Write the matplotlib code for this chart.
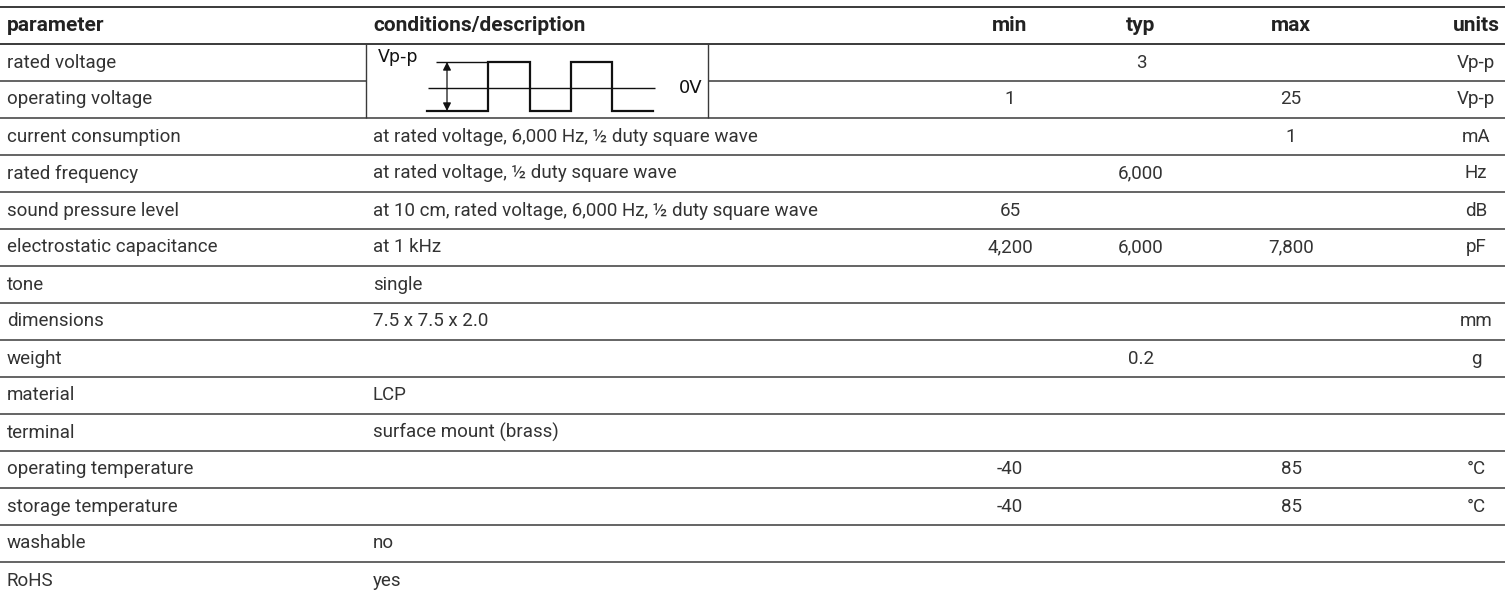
import matplotlib
matplotlib.use("Agg")
import matplotlib.pyplot as plt

plt.rcParams['font.family'] = ['Roboto', 'DejaVu Sans']

headers = ["parameter", "conditions/description", "min", "typ", "max", "units"]
params = ["rated voltage", "operating voltage", "current consumption", "rated frequency",
          "sound pressure level", "electrostatic capacitance", "tone", "dimensions", "weight",
          "material", "terminal", "operating temperature", "storage temperature", "washable", "RoHS"]
conditions = ["", "", "at rated voltage, 6,000 Hz, ½ duty square wave",
              "at rated voltage, ½ duty square wave",
              "at 10 cm, rated voltage, 6,000 Hz, ½ duty square wave",
              "at 1 kHz", "single", "7.5 x 7.5 x 2.0", "", "LCP", "surface mount (brass)",
              "", "", "no", "yes"]
mins = ["", "1", "", "", "65", "4,200", "", "", "", "", "", "-40", "-40", "", ""]
typs = ["3", "", "", "6,000", "", "6,000", "", "", "0.2", "", "", "", "", "", ""]
maxs = ["", "25", "1", "", "", "7,800", "", "", "", "", "", "85", "85", "", ""]
units = ["Vp-p", "Vp-p", "mA", "Hz", "dB", "pF", "", "mm", "g", "", "", "°C", "°C", "", ""]

W, H = 1507, 593
fig = plt.figure(figsize=(W / 100, H / 100), dpi=100)
ax = fig.add_axes([0, 0, 1, 1])
ax.set_xlim(0, W)
ax.set_ylim(H, 0)
ax.axis("off")

txt = "#333333"
hdr = "#222222"
line_c = "#3a3a3a"
fs = 13.5
fsh = 15
top = 7
row_h = 37
x_param = 7
x_cond = 373
x_min, x_typ, x_max, x_units = 1010, 1141, 1291, 1476
right = 1505

# header
hy = top + row_h / 2
ax.text(x_param, hy, headers[0], ha="left", va="center", fontsize=fsh, weight="bold", color=hdr)
ax.text(x_cond, hy, headers[1], ha="left", va="center", fontsize=fsh, weight="bold", color=hdr)
for x, h in zip([x_min, x_typ, x_max, x_units], headers[2:]):
    ax.text(x, hy, h, ha="center", va="center", fontsize=fsh, weight="bold", color=hdr)

# horizontal rules
ax.hlines(top, 0, right, color=line_c, lw=1.4)
ax.hlines(top + row_h, 0, right, color=line_c, lw=1.4)
n = len(params)
for i in range(1, n):
    y = top + row_h * (i + 1)
    if i == 1:
        ax.hlines(y, 0, 366, color=line_c, lw=1.1)
        ax.hlines(y, 708, right, color=line_c, lw=1.1)
    else:
        ax.hlines(y, 0, right, color=line_c, lw=1.1)

# rows
for i in range(n):
    y = top + row_h * (i + 1) + row_h / 2
    ax.text(x_param, y, params[i], ha="left", va="center", fontsize=fs, color=txt)
    if conditions[i]:
        ax.text(x_cond, y, conditions[i], ha="left", va="center", fontsize=fs, color=txt)
    for x, v in zip([x_min, x_typ, x_max, x_units], [mins[i], typs[i], maxs[i], units[i]]):
        if v:
            ax.text(x, y, v, ha="center", va="center", fontsize=fs, color=txt)

# waveform cell
y0c = top + row_h
y1c = top + row_h * 3
ax.vlines([366, 708], y0c, y1c, color=line_c, lw=1.0)
ax.text(378, 57, "Vp-p", ha="left", va="center", fontsize=12.5, family="DejaVu Sans", color="#111")
ax.text(703, 88, "0V", ha="right", va="center", fontsize=13, family="DejaVu Sans", color="#111")
yt, yb, y0v = 62, 111, 88
ax.hlines(yt, 436, 488, color="#111", lw=1.0)
ax.hlines(y0v, 428, 655, color="#111", lw=1.0)
wave_x = [427, 488, 488, 530, 530, 571, 571, 612, 612, 653]
wave_y = [yb, yb, yt, yt, yb, yb, yt, yt, yb, yb]
ax.plot(wave_x, wave_y, color="#111", lw=1.6, solid_joinstyle="miter")
ax.annotate("", xy=(447, yt), xytext=(447, yb),
            arrowprops=dict(arrowstyle="<|-|>", color="#111", lw=0.9,
                            mutation_scale=12, shrinkA=0, shrinkB=0))

fig.savefig("out.png", dpi=100)
